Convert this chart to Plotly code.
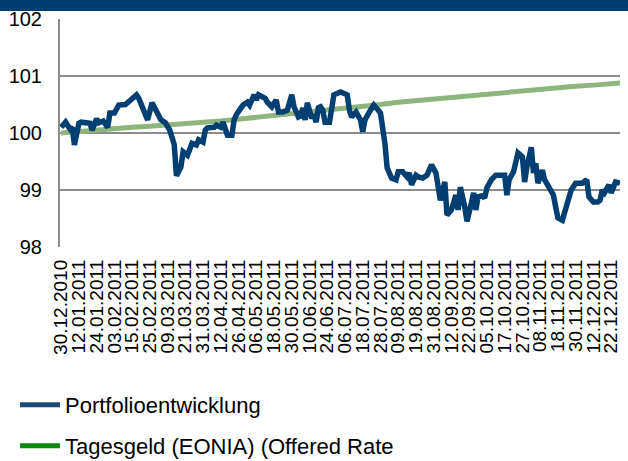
import pandas as pd
import plotly.graph_objects as go

# ---- categories: trading days (German exchange calendar) ----
holidays = ["2010-12-31", "2011-04-22", "2011-04-25", "2011-06-02",
            "2011-06-13", "2011-06-23", "2011-10-03", "2011-12-26"]
days = [d for d in pd.bdate_range("2010-12-30", "2011-12-30")
        if d.strftime("%Y-%m-%d") not in holidays]
day_labels = [d.strftime("%d.%m.%Y") for d in days]

tick_labels = ["30.12.2010", "12.01.2011", "24.01.2011", "03.02.2011", "15.02.2011",
               "25.02.2011", "09.03.2011", "21.03.2011", "31.03.2011", "12.04.2011",
               "26.04.2011", "06.05.2011", "18.05.2011", "30.05.2011", "10.06.2011",
               "24.06.2011", "06.07.2011", "18.07.2011", "28.07.2011", "09.08.2011",
               "19.08.2011", "31.08.2011", "12.09.2011", "22.09.2011", "05.10.2011",
               "17.10.2011", "27.10.2011", "08.11.2011", "18.11.2011", "30.11.2011",
               "12.12.2011", "22.12.2011"]

# ---- Portfolioentwicklung (trading-day number, value) ----
blue_day = [0, 1, 2, 4, 5, 6, 8, 9, 12, 13, 14, 16, 17, 19, 21, 22, 24, 25, 26, 29,
            31, 34, 35, 37, 39, 41, 43, 45, 47, 49, 51, 52, 54, 55, 57, 58, 59, 61, 62, 64,
            65, 66, 69, 70, 72, 73, 74, 75, 77, 78, 79, 82, 84, 85, 87, 88, 89, 91, 92, 93,
            95, 97, 98, 100, 102, 104, 105, 107, 108, 109, 110, 111, 113, 114, 115, 116, 117, 118, 119, 121,
            122, 123, 126, 127, 129, 130, 131, 133, 135, 136, 137, 139, 141, 143, 144, 146, 147, 149, 151, 152,
            154, 156, 157, 158, 160, 161, 163, 165, 166, 167, 169, 171, 173, 174, 176, 178, 179, 180, 182, 183,
            185, 186, 187, 188, 190, 191, 192, 194, 196, 198, 200, 201, 202, 204, 206, 208, 209, 210, 212, 213,
            214, 215, 217, 218, 220, 222, 223, 224, 226, 227, 229, 230, 232, 234, 235, 237, 238, 240, 242, 243,
            244, 245, 247, 248, 250, 252]
blue_val = [100.10, 100.14, 100.19, 100.07, 100.10, 99.79, 100.17, 100.19, 100.19, 100.17,
            100.05, 100.25, 100.18, 100.21, 100.10, 100.35, 100.35, 100.43, 100.49, 100.50,
            100.58, 100.67, 100.61, 100.44, 100.23, 100.53, 100.35, 100.23, 100.18, 100.05,
            99.80, 99.25, 99.40, 99.67, 99.61, 99.74, 99.82, 99.79, 99.88, 99.84,
            100.05, 100.09, 100.10, 100.14, 100.10, 100.19, 100.10, 99.96, 99.96, 100.23,
            100.32, 100.49, 100.54, 100.49, 100.67, 100.58, 100.67, 100.63, 100.61, 100.54,
            100.46, 100.58, 100.37, 100.37, 100.40, 100.67, 100.46, 100.28, 100.30, 100.44,
            100.23, 100.53, 100.26, 100.32, 100.19, 100.44, 100.46, 100.40, 100.19, 100.19,
            100.53, 100.67, 100.72, 100.70, 100.67, 100.40, 100.28, 100.37, 100.23, 100.02,
            100.23, 100.37, 100.49, 100.40, 100.35, 99.82, 99.39, 99.21, 99.18, 99.32,
            99.32, 99.23, 99.30, 99.09, 99.26, 99.23, 99.21, 99.26, 99.35, 99.44,
            99.30, 98.82, 99.14, 98.56, 98.65, 98.91, 98.65, 99.05, 98.70, 98.45,
            98.77, 98.95, 98.65, 98.88, 98.90, 98.86, 99.04, 99.18, 99.26, 99.26,
            99.26, 98.91, 99.18, 99.32, 99.65, 99.58, 99.14, 99.40, 99.75, 99.30,
            99.47, 99.12, 99.35, 99.18, 99.04, 98.91, 98.70, 98.51, 98.47, 98.60,
            98.86, 99.00, 99.12, 99.12, 99.12, 99.18, 98.88, 98.79, 98.79, 98.82,
            99.00, 98.95, 99.09, 98.95, 99.14, 99.12]

# ---- Tagesgeld (EONIA) at the tick dates and the last day ----
green_dates = tick_labels + ["30.12.2011"]
green_val = [100.00, 100.03, 100.05, 100.08, 100.10, 100.12, 100.15, 100.17, 100.19, 100.21,
             100.24, 100.27, 100.30, 100.34, 100.37, 100.40, 100.43, 100.46, 100.50, 100.54,
             100.57, 100.60, 100.63, 100.65, 100.68, 100.71, 100.74, 100.76, 100.79, 100.82,
             100.84, 100.87, 100.88]

series_names = ["Portfolioentwicklung", "Tagesgeld (EONIA) (Offered Rate"]

BLUE = "#003f72"
GREEN_LINE = "#8db57c"
LEGEND_BLUE = "#1b4a7a"
LEGEND_GREEN = "#0a8a0a"
GRID = "#8c8c8c"
FONT = "Liberation Sans, Arial, sans-serif"

idx_of = {lab: i for i, lab in enumerate(day_labels)}
tick_pos = [idx_of[t] for t in tick_labels]

fig = go.Figure()
fig.add_trace(go.Scatter(x=[idx_of[d] for d in green_dates], y=green_val, mode="lines",
                         line=dict(color=GREEN_LINE, width=5), showlegend=False,
                         name=series_names[1]))
fig.add_trace(go.Scatter(x=blue_day, y=blue_val, mode="lines",
                         line=dict(color=BLUE, width=5.5), showlegend=False,
                         name=series_names[0]))
# legend entries
fig.add_trace(go.Scatter(x=[None], y=[None], mode="lines", name=series_names[0],
                         line=dict(color=LEGEND_BLUE, width=5), legend="legend"))
fig.add_trace(go.Scatter(x=[None], y=[None], mode="lines", name=series_names[1],
                         line=dict(color=LEGEND_GREEN, width=5), legend="legend2"))

# top dark band
fig.add_shape(type="rect", xref="paper", yref="paper",
              x0=-0.2, x1=1.1, y0=(247 - 11) / 228, y1=1.2,
              fillcolor=BLUE, line=dict(width=0), layer="above")

legend_common = dict(xanchor="left", yanchor="middle", bgcolor="rgba(0,0,0,0)",
                     font=dict(family=FONT, size=22, color="#000000"), itemwidth=40)
fig.update_layout(
    width=628, height=461,
    margin=dict(l=60, r=8, t=19, b=214, autoexpand=False),
    plot_bgcolor="white", paper_bgcolor="white",
    font=dict(family=FONT, color="#000000"),
    showlegend=True,
    legend=dict(x=(15 - 60) / 560, y=(247 - 405) / 228, **legend_common),
    legend2=dict(x=(15 - 60) / 560, y=(247 - 446) / 228, **legend_common),
    xaxis=dict(range=[-0.5, 252], tickmode="array", tickvals=tick_pos, ticktext=tick_labels,
               tickangle=-90, tickfont=dict(size=19, family=FONT, color="#000000"),
               showgrid=False, zeroline=False, showline=False, ticks="",
               ticklabelstandoff=8, automargin=False),
    yaxis=dict(range=[98, 102], dtick=1, tick0=98, showgrid=True, gridcolor=GRID, gridwidth=2,
               zeroline=False, showline=True, linecolor=GRID, linewidth=2, ticks="",
               tickfont=dict(size=20, family=FONT, color="#000000"), ticklabelstandoff=12,
               automargin=False),
)

fig.write_html("out.html", config={"displayModeBar": False},
               post_script="document.body.style.margin='0';")
